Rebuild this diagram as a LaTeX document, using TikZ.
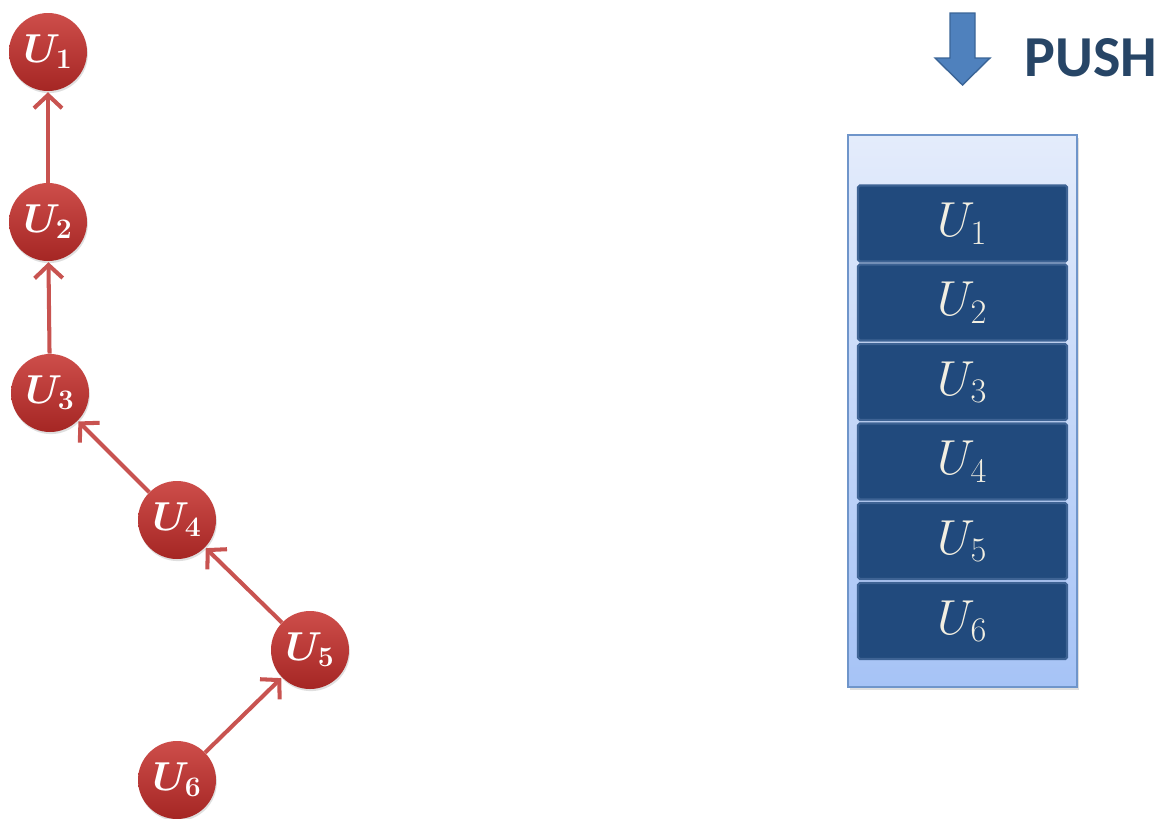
\RequirePackage{fix-cm}
\documentclass[tikz,border=0pt]{standalone}
\usepackage{fontspec}
\newfontfamily\pushfont{Carlito}
\usetikzlibrary{arrows.meta,shadows,calc}
\definecolor{ballred}{HTML}{C83A36}
\definecolor{balldark}{HTML}{A52624}
\definecolor{edgered}{HTML}{C85350}
\definecolor{stacktop}{HTML}{E4ECFB}
\definecolor{stackbot}{HTML}{A6C3F6}
\definecolor{stackline}{HTML}{6F95CA}
\definecolor{cellfill}{HTML}{214A7D}
\definecolor{cellline}{HTML}{3E6394}
\definecolor{celltext}{HTML}{F2EFE2}
\definecolor{pushblue}{HTML}{4F81BD}
\definecolor{pushline}{HTML}{3B6597}
\definecolor{pushtext}{HTML}{274566}
\tikzset{
  ball/.style={circle, minimum size=78*0.02cm, inner sep=0pt, top color=ballred!90!white, bottom color=balldark,
    draw=none, drop shadow={shadow xshift=0.5pt, shadow yshift=-1.2pt, opacity=0.25},
    text=white, font=\fontsize{23}{27}\selectfont\boldmath},
  link/.style={draw=edgered, line width=2.3pt, -{Straight Barb[length=7.5pt,width=16pt,line width=2.3pt]}, shorten >=0.5pt},
  cell/.style={rectangle, minimum width=209*0.02cm, minimum height=76*0.02cm, inner sep=0pt,
    fill=cellfill, draw=cellline, line width=1.2pt, rounded corners=1pt, text=celltext,
    font=\fontsize{28}{32}\selectfont},
  stackbox/.style={rectangle, top color=stacktop, bottom color=stackbot, draw=stackline, line width=0.8pt,
    drop shadow={shadow xshift=1pt, shadow yshift=-1.5pt, opacity=0.25}},
}
\begin{document}
\begin{tikzpicture}[x=0.02cm,y=-0.02cm]
\useasboundingbox (0,0) rectangle (1168,818);
% tree nodes
\node[ball] (u1) at (48,52) {$U_1$};
\node[ball] (u2) at (48,222) {$U_2$};
\node[ball] (u3) at (50,393) {$U_3$};
\node[ball] (u4) at (177,520) {$U_4$};
\node[ball] (u5) at (310,650) {$U_5$};
\node[ball] (u6) at (177,780) {$U_6$};
\draw[link] (u2) -- (u1);
\draw[link] (u3) -- (u2);
\draw[link] (u4) -- (u3);
\draw[link] (u5) -- (u4);
\draw[link] (u6) -- (u5);
% stack
\node[stackbox, minimum width=229*0.02cm, minimum height=552*0.02cm, inner sep=0pt] (stack) at (962.5,411) {};
\node[cell] (s1) at (962.5,223.5) {$U_1$};
\node[cell] (s2) at (962.5,302.5) {$U_2$};
\node[cell] (s3) at (962.5,382) {$U_3$};
\node[cell] (s4) at (962.5,461.5) {$U_4$};
\node[cell] (s5) at (962.5,541) {$U_5$};
\node[cell] (s6) at (962.5,621) {$U_6$};
% push arrow
\coordinate (pa) at (962.5,85);
\filldraw[fill=pushblue, draw=pushline, line width=0.8pt]
  (950,13) -- (975,13) -- (975,58) -- (990,58) -- (pa) -- (935,58) -- (950,58) -- cycle;
\node[anchor=west, text=pushtext, font=\pushfont\bfseries\fontsize{33}{38}\selectfont, inner sep=0pt] (push) at (1024,58) {PUSH};
\end{tikzpicture}
\end{document}
